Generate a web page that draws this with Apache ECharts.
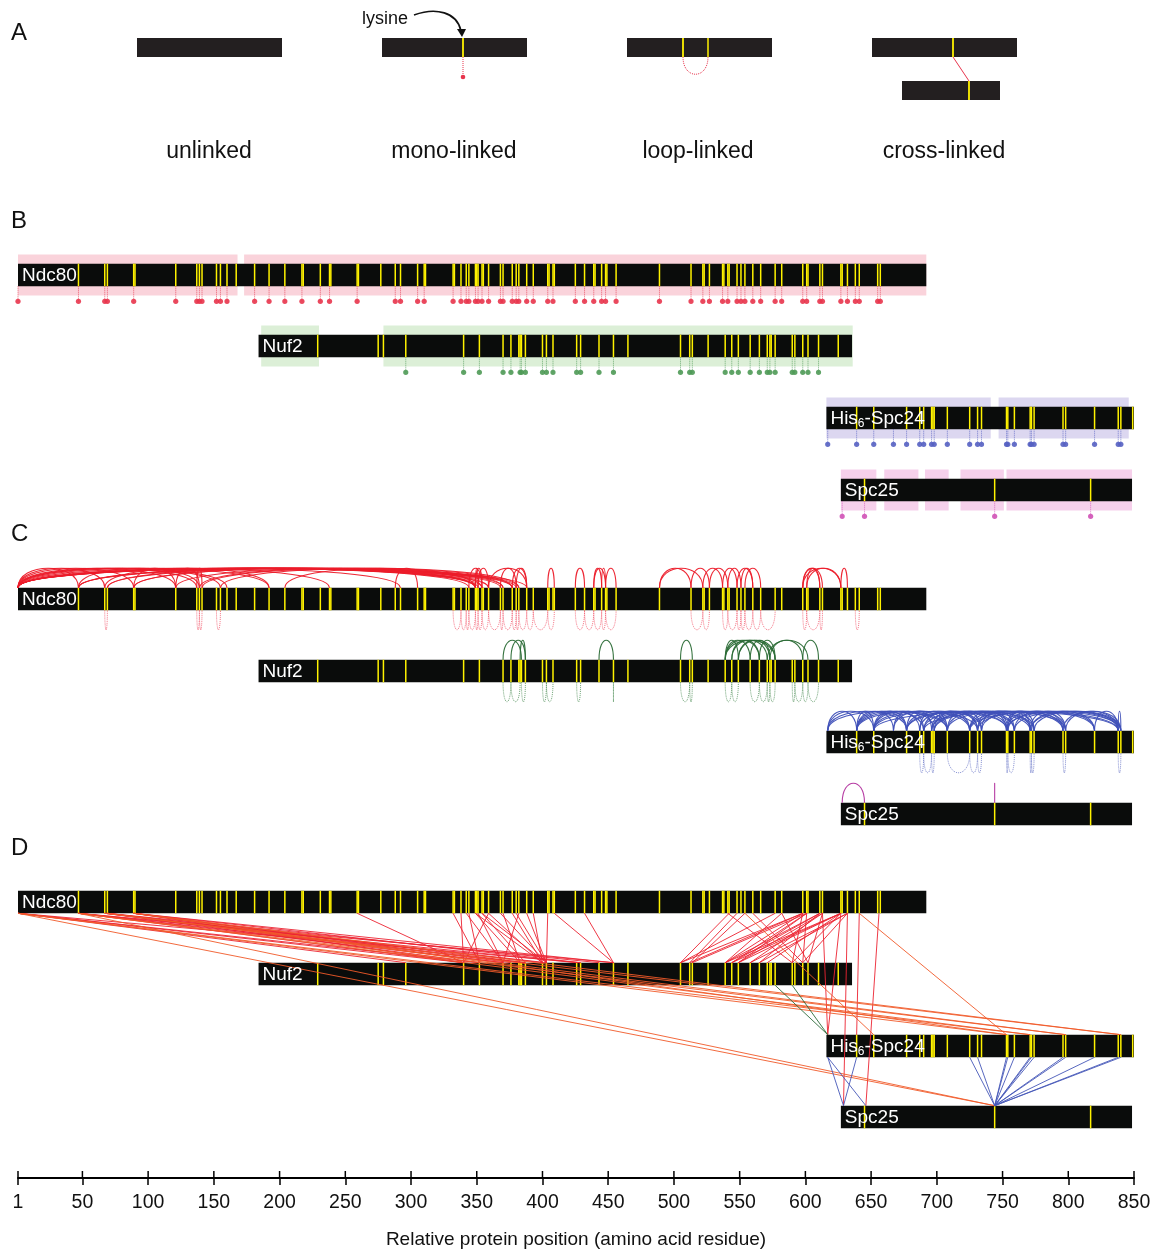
<!DOCTYPE html>
<html>
<head>
<meta charset="utf-8">
<script src="https://cdn.jsdelivr.net/npm/echarts@6/dist/echarts.min.js"></script>
<style>
  html, body { margin: 0; padding: 0; background: #fff; }
  #chart { width: 1158px; height: 1249px; }
</style>
</head>
<body>
<div id="chart"></div>
<script>
// relative protein position axis
var axisTicks = [1, 50, 100, 150, 200, 250, 300, 350, 400, 450, 500, 550, 600, 650, 700, 750, 800, 850];

var proteinNames = ['Ndc80', 'Nuf2', 'His6-Spc24', 'Spc25'];

// extent of each protein on the relative axis
var ndc80Span = [1, 692];
var nuf2Span = [184, 635.5];
var spc24Span = [616, 850];
var spc25Span = [627, 848.5];

// lysine positions
var ndc80Lys = [47, 67, 69, 89, 90, 121, 137, 139, 141, 152, 155, 160, 167, 181, 192, 204, 217, 218, 231, 238, 239, 259, 260, 277, 288, 292, 305, 310, 311, 332, 333, 338, 342, 344, 349, 350, 351, 354, 355, 359, 368, 370, 377, 380, 382, 388, 393, 404, 405, 408, 409, 425, 432, 439, 440, 445, 448, 449, 456, 489, 513, 522, 523, 527, 537, 538, 541, 542, 548, 551, 554, 560, 566, 577, 582, 598, 601, 602, 611, 613, 627, 628, 632, 638, 641, 655, 657];
var nuf2Lys = [229, 275, 279, 296, 340, 352, 370, 376, 382, 383, 384, 387, 400, 403, 408, 426, 429, 443, 454, 465, 505, 512, 514, 526, 539, 544, 549, 558, 565, 571, 573, 574, 577, 590, 592, 598, 602, 610, 625];
var spc24Lys = [639, 652, 677, 687, 690, 696, 697, 698, 708, 725, 731, 734, 753, 754, 759, 771, 772, 774, 796, 798, 820, 838, 840, 849];
var spc25Lys = [645, 744, 817];

// B: mono-links
var ndc80Mono = [1, 47, 67, 69, 89, 121, 137, 139, 141, 152, 155, 160, 181, 192, 204, 217, 231, 238, 259, 288, 292, 305, 310, 332, 338, 342, 344, 349, 351, 354, 359, 368, 370, 377, 380, 382, 388, 393, 404, 408, 425, 432, 439, 445, 448, 456, 489, 513, 522, 527, 537, 541, 548, 551, 554, 560, 566, 577, 582, 598, 601, 611, 613, 627, 632, 638, 641, 655, 657];
var nuf2Mono = [296, 340, 352, 370, 376, 383, 384, 387, 400, 403, 408, 426, 429, 443, 454, 505, 512, 514, 539, 544, 549, 558, 565, 571, 573, 577, 590, 592, 598, 602, 610];
var spc24Mono = [617, 639, 652, 667, 677, 687, 690, 696, 698, 708, 725, 731, 734, 753, 754, 759, 771, 772, 774, 796, 798, 820, 838, 840];
var spc25Mono = [628, 645, 744, 817];

// B: sequence coverage
var ndc80Cover = [[1, 168], [173, 692]];
var nuf2Cover = [[186, 230], [279, 636]];
var spc24Cover = [[616, 741], [747, 846]];
var spc25Cover = [[627, 654], [660, 686], [691, 709], [718, 751], [753, 848.5]];

// C: intra-protein cross-links (above) and loop-links (below)
var ndc80Intra = [[1, 47], [1, 67], [1, 89], [1, 121], [1, 137], [1, 155], [1, 160], [1, 192], [1, 238], [1, 292], [1, 344], [1, 349], [1, 351], [1, 354], [1, 359], [1, 368], [1, 377], [1, 380], [1, 388],
  [47, 139], [47, 349], [47, 370], [47, 382], [67, 192], [69, 349], [69, 377], [89, 121], [89, 349], [89, 359], [121, 139], [121, 370], [137, 141], [139, 354], [141, 377], [155, 382], [204, 349], [288, 305],
  [344, 354], [349, 351], [349, 354], [351, 359], [359, 388], [368, 380], [377, 388], [380, 388], [404, 409], [425, 432], [439, 445], [439, 448], [445, 448], [448, 456],
  [489, 513], [489, 522], [513, 527], [522, 537], [527, 541], [537, 548], [541, 551], [548, 560], [551, 560], [554, 566],
  [598, 611], [598, 613], [601, 611], [598, 627], [601, 627], [627, 632]];
var ndc80Loops = [[67, 69], [137, 139], [139, 141], [152, 155], [332, 338], [338, 342], [342, 344], [344, 349], [349, 351], [351, 354], [354, 359], [359, 368], [368, 370], [370, 377], [377, 380], [380, 382], [382, 388], [388, 393], [393, 404], [404, 409],
  [425, 432], [432, 439], [439, 445], [445, 448], [448, 456], [513, 522], [522, 527], [537, 541], [541, 548], [548, 551], [551, 554], [554, 560], [560, 566], [566, 577], [598, 601], [601, 611], [611, 613], [638, 641]];
var nuf2Intra = [[370, 384], [376, 387], [383, 387], [443, 454], [505, 514], [539, 549], [539, 558], [539, 565], [539, 577], [544, 565], [544, 571], [549, 573], [549, 577], [558, 573], [565, 577], [571, 602], [573, 598], [598, 610]];
var nuf2Loops = [[370, 376], [376, 383], [384, 387], [400, 403], [403, 408], [426, 429], [454, 454], [505, 512], [512, 514], [539, 544], [544, 549], [558, 565], [565, 571], [571, 573], [573, 577], [590, 592], [592, 598], [598, 602], [602, 610]];
var spc24Intra = [[617, 639], [617, 652], [617, 677], [617, 708], [639, 652], [639, 667], [639, 677], [639, 690], [639, 708], [639, 731], [652, 677], [652, 687], [652, 698], [652, 725], [652, 754], [652, 838],
  [667, 690], [667, 708], [677, 696], [677, 725], [677, 753], [677, 771], [687, 708], [687, 734], [690, 731], [690, 759], [690, 838], [696, 725], [696, 754], [696, 774], [698, 731], [698, 772], [698, 798],
  [708, 734], [708, 759], [708, 796], [725, 753], [725, 771], [725, 798], [725, 840], [731, 754], [731, 774], [731, 820], [734, 759], [734, 796], [753, 771], [753, 798], [753, 838], [754, 774], [754, 820],
  [759, 796], [759, 840], [771, 798], [771, 838], [772, 820], [774, 840], [796, 838], [798, 840], [820, 838], [838, 840]];
var spc24Loops = [[687, 690], [690, 696], [696, 698], [708, 725], [725, 731], [731, 734], [753, 754], [754, 759], [771, 772], [772, 774], [796, 798], [838, 840]];
var spc25Intra = [[628, 645], [744, 744]];
var spc25Loops = [];

// D: inter-protein cross-links [upper protein residue, lower protein residue]
var ndc80Nuf2Links = [[1, 296], [1, 340], [1, 352], [1, 429], [47, 340], [47, 370], [47, 387], [47, 426], [47, 454], [67, 352], [67, 383], [67, 403], [69, 370], [69, 400], [69, 443], [89, 340], [89, 376], [89, 387], [89, 429], [89, 454], [259, 340],
  [332, 352], [338, 340], [342, 370], [344, 352], [349, 383], [349, 400], [351, 370], [354, 387], [354, 403], [359, 340], [359, 400], [368, 403], [370, 383], [377, 400], [380, 403], [382, 370], [388, 403], [393, 400], [404, 403], [409, 454], [432, 454],
  [542, 505], [548, 512], [554, 514], [577, 505], [582, 539], [598, 505], [598, 512], [598, 539], [601, 514], [601, 544], [601, 549], [611, 539], [611, 544], [611, 565], [613, 549], [613, 558], [627, 539], [627, 544], [627, 549], [627, 571], [632, 558], [632, 565],
  [541, 590], [560, 598], [582, 602], [598, 590], [601, 598], [613, 602], [627, 590], [632, 598]];
var ndc80Spc24Links = [[613, 617], [627, 617], [641, 639]];
var ndc80Spc25Links = [[632, 629], [656, 646]];
var ndc80Spc24LongLinks = [[1, 753], [1, 771], [47, 771], [47, 798], [67, 840], [69, 798], [89, 840], [89, 753], [554, 652], [641, 753]];
var ndc80Spc25LongLinks = [[1, 744], [47, 744]];
var nuf2Spc24Links = [[577, 617], [590, 617]];
var spc24Spc25Links = [[617, 629], [617, 646], [639, 629], [725, 744], [731, 744], [753, 744], [754, 744], [759, 744], [771, 744], [772, 744], [774, 744], [796, 744], [798, 744], [820, 744], [838, 744], [840, 744]];

// track rows (y units of the layout axis) for panels B, C, D
var rowsB = [275, 346, 418, 490];
var rowsC = [599, 671, 742, 814];
var rowsD = [902, 974, 1046, 1117];
var axisY = 1178;
var barHalf = 11.3;
var bandHalf = 20.5;
var arcH = 26;

var FONT = '"Liberation Sans", Arial, Helvetica, sans-serif';
var bandColors = ['#fad3db', '#dcefd7', '#dcd7f0', '#f6d0eb'];
var monoColors = ['#e8354d', '#4f9a57', '#5560c2', '#d052b6'];
var arcColors = ['#ec1c2a', '#2b6b36', '#3f50b8', '#b2329e'];
var loopColors = ['#f2566a', '#4f8f58', '#6c78c8', '#c050b0'];

var spans = [ndc80Span, nuf2Span, spc24Span, spc25Span];
var lysines = [ndc80Lys, nuf2Lys, spc24Lys, spc25Lys];
var monos = [ndc80Mono, nuf2Mono, spc24Mono, spc25Mono];
var covers = [ndc80Cover, nuf2Cover, spc24Cover, spc25Cover];
var intras = [ndc80Intra, nuf2Intra, spc24Intra, spc25Intra];
var loops = [ndc80Loops, nuf2Loops, spc24Loops, spc25Loops];

var barData = [], lysData = [], labelData = [], bandData = [], monoData = [];
[rowsB, rowsC, rowsD].forEach(function (rows) {
  rows.forEach(function (y, i) {
    barData.push([spans[i][0], spans[i][1], y]);
    labelData.push([spans[i][0], y, i]);
    lysines[i].forEach(function (k) { lysData.push([k, y]); });
  });
});
rowsB.forEach(function (y, i) {
  covers[i].forEach(function (c) { bandData.push([c[0], c[1], y, i]); });
  monos[i].forEach(function (m) { monoData.push([m, y, i]); });
});

function renderRect(half, colorFn) {
  return function (params, api) {
    var p0 = api.coord([api.value(0), api.value(2) - half]);
    var p1 = api.coord([api.value(1), api.value(2) + half]);
    return {
      type: 'rect',
      shape: { x: p0[0], y: p0[1], width: p1[0] - p0[0], height: p1[1] - p0[1] },
      style: { fill: colorFn(api) }
    };
  };
}

function renderLys(params, api) {
  var p0 = api.coord([api.value(0), api.value(1) - barHalf]);
  var p1 = api.coord([api.value(0), api.value(1) + barHalf]);
  return { type: 'line', shape: { x1: p0[0], y1: p0[1], x2: p1[0], y2: p1[1] }, style: { stroke: '#fff200', lineWidth: 1.5 } };
}

function renderMono(params, api) {
  var c = monoColors[api.value(2)];
  var p0 = api.coord([api.value(0), api.value(1) + barHalf]);
  var p1 = api.coord([api.value(0), api.value(1) + barHalf + 15]);
  return {
    type: 'group',
    children: [
      { type: 'line', shape: { x1: p0[0], y1: p0[1], x2: p1[0], y2: p1[1] }, style: { stroke: c, lineWidth: 1, lineDash: [1, 1], opacity: 0.75 } },
      { type: 'circle', shape: { cx: p1[0], cy: p1[1], r: 2.6 }, style: { fill: c, opacity: 0.9 } }
    ]
  };
}

function renderArc(color, dashed) {
  return function (params, api) {
    var a = api.value(0), b = api.value(1), y = api.value(2), dir = api.value(3);
    var edge = y - dir * barHalf;
    var p1 = api.coord([a, edge]), p2 = api.coord([b, edge]);
    var c1 = api.coord([a, edge - dir * arcH]), c2 = api.coord([b, edge - dir * arcH]);
    return {
      type: 'bezierCurve',
      shape: { x1: p1[0], y1: p1[1], x2: p2[0], y2: p2[1], cpx1: c1[0], cpy1: c1[1], cpx2: c2[0], cpy2: c2[1] },
      style: { stroke: color, fill: null, lineWidth: dashed ? 1 : 1.1, lineDash: dashed ? [1, 1] : null, opacity: dashed ? 0.8 : 0.95 }
    };
  };
}

function renderLink(color) {
  return function (params, api) {
    var p1 = api.coord([api.value(0), api.value(2) + barHalf]);
    var p2 = api.coord([api.value(1), api.value(3) - barHalf]);
    return { type: 'line', shape: { x1: p1[0], y1: p1[1], x2: p2[0], y2: p2[1] }, style: { stroke: color, lineWidth: 1, opacity: 0.9 } };
  };
}

// upper half of the axis ticks (the axis draws the lower half)
function renderTickUp(params, api) {
  var p0 = api.coord([api.value(0), axisY]);
  return { type: 'line', shape: { x1: p0[0], y1: p0[1], x2: p0[0], y2: p0[1] - 7 }, style: { stroke: '#000', lineWidth: 1.5 } };
}

var labelText = ['Ndc80', 'Nuf2', '{n|His}{s|6}{n|-Spc24}', 'Spc25'];
function renderLabel(params, api) {
  var p = api.coord([api.value(0), api.value(1)]);
  return {
    type: 'text',
    x: p[0] + 4,
    y: p[1] + 1,
    style: {
      text: labelText[api.value(2)],
      fill: '#fff',
      fontSize: 19,
      fontFamily: FONT,
      verticalAlign: 'middle',
      rich: {
        n: { fontSize: 19, fontFamily: FONT, fill: '#fff' },
        s: { fontSize: 12, fontFamily: FONT, fill: '#fff', padding: [10, 0, 0, 0] }
      }
    }
  };
}

function custom(data, render, z) {
  return { type: 'custom', data: data, renderItem: render, z: z, silent: true, clip: false };
}

var series = [];
series.push(custom(bandData, renderRect(bandHalf, function (api) { return bandColors[api.value(3)]; }), 1));
series.push(custom(barData, renderRect(barHalf, function () { return '#0a0c0b'; }), 2));
series.push(custom(lysData, renderLys, 3));
series.push(custom(monoData, renderMono, 3));
for (var i = 0; i < 4; i++) {
  var up = intras[i].map(function (p) { return [p[0], p[1], rowsC[i], 1]; });
  var down = loops[i].map(function (p) { return [p[0], p[1], rowsC[i], -1]; });
  series.push(custom(up, renderArc(arcColors[i], false), 4));
  series.push(custom(down, renderArc(loopColors[i], true), 4));
}
function linkData(list, from, to) {
  return list.map(function (p) { return [p[0], p[1], rowsD[from], rowsD[to]]; });
}
series.push(custom(linkData(ndc80Nuf2Links, 0, 1), renderLink('#ec2332'), 5));
series.push(custom(linkData(ndc80Spc24Links, 0, 2), renderLink('#ec2332'), 5));
series.push(custom(linkData(ndc80Spc25Links, 0, 3), renderLink('#ec2332'), 5));
series.push(custom(linkData(ndc80Spc24LongLinks, 0, 2), renderLink('#f15a29'), 5));
series.push(custom(linkData(ndc80Spc25LongLinks, 0, 3), renderLink('#f15a29'), 5));
series.push(custom(linkData(nuf2Spc24Links, 1, 2), renderLink('#2f6b3b'), 5));
series.push(custom(linkData(spc24Spc25Links, 2, 3), renderLink('#4658b8'), 5));
series.push(custom(labelData, renderLabel, 6));
series.push(custom(axisTicks.map(function (t) { return [t, axisY]; }), renderTickUp, 6));

// panel A schematic and panel letters
var ink = '#231f20';
var txt = { fill: '#111', fontFamily: FONT };
var graphic = [
  { type: 'text', x: 11, y: 33, style: Object.assign({ text: 'A', fontSize: 24, verticalAlign: 'middle' }, txt) },
  { type: 'text', x: 11, y: 221, style: Object.assign({ text: 'B', fontSize: 24, verticalAlign: 'middle' }, txt) },
  { type: 'text', x: 11, y: 534, style: Object.assign({ text: 'C', fontSize: 24, verticalAlign: 'middle' }, txt) },
  { type: 'text', x: 11, y: 848, style: Object.assign({ text: 'D', fontSize: 24, verticalAlign: 'middle' }, txt) },
  { type: 'rect', shape: { x: 137, y: 38, width: 145, height: 19 }, style: { fill: ink } },
  { type: 'rect', shape: { x: 382, y: 38, width: 145, height: 19 }, style: { fill: ink } },
  { type: 'rect', shape: { x: 627, y: 38, width: 145, height: 19 }, style: { fill: ink } },
  { type: 'rect', shape: { x: 872, y: 38, width: 145, height: 19 }, style: { fill: ink } },
  { type: 'rect', shape: { x: 902, y: 81, width: 98, height: 19 }, style: { fill: ink } },
  { type: 'line', shape: { x1: 463, y1: 38, x2: 463, y2: 57 }, style: { stroke: '#fff200', lineWidth: 1.8 } },
  { type: 'line', shape: { x1: 463, y1: 57, x2: 463, y2: 76 }, style: { stroke: '#e8354d', lineWidth: 1, lineDash: [1, 1] } },
  { type: 'circle', shape: { cx: 463, cy: 77, r: 2.3 }, style: { fill: '#e8354d' } },
  { type: 'line', shape: { x1: 683, y1: 38, x2: 683, y2: 57 }, style: { stroke: '#fff200', lineWidth: 1.8 } },
  { type: 'line', shape: { x1: 708, y1: 38, x2: 708, y2: 57 }, style: { stroke: '#fff200', lineWidth: 1.5 } },
  { type: 'bezierCurve', shape: { x1: 683, y1: 57, cpx1: 683, cpy1: 80, cpx2: 708, cpy2: 80, x2: 708, y2: 57 }, style: { stroke: '#e8354d', fill: null, lineWidth: 1, lineDash: [1, 1] } },
  { type: 'line', shape: { x1: 953, y1: 38, x2: 953, y2: 57 }, style: { stroke: '#fff200', lineWidth: 1.8 } },
  { type: 'line', shape: { x1: 969, y1: 81, x2: 969, y2: 100 }, style: { stroke: '#fff200', lineWidth: 1.8 } },
  { type: 'line', shape: { x1: 953, y1: 57, x2: 969, y2: 81 }, style: { stroke: '#e8354d', lineWidth: 1 } },
  { type: 'text', x: 362, y: 19, style: Object.assign({ text: 'lysine', fontSize: 18, verticalAlign: 'middle' }, txt) },
  { type: 'bezierCurve', shape: { x1: 414, y1: 15, cpx1: 436, cpy1: 7, cpx2: 457, cpy2: 12, x2: 461, y2: 31 }, style: { stroke: '#111', fill: null, lineWidth: 1.6 } },
  { type: 'polygon', shape: { points: [[457, 29], [466, 29], [462, 37]] }, style: { fill: '#111' } },
  { type: 'text', x: 209, y: 152, style: Object.assign({ text: 'unlinked', fontSize: 23, align: 'center', verticalAlign: 'middle' }, txt) },
  { type: 'text', x: 454, y: 152, style: Object.assign({ text: 'mono-linked', fontSize: 23, align: 'center', verticalAlign: 'middle' }, txt) },
  { type: 'text', x: 698, y: 152, style: Object.assign({ text: 'loop-linked', fontSize: 23, align: 'center', verticalAlign: 'middle' }, txt) },
  { type: 'text', x: 944, y: 152, style: Object.assign({ text: 'cross-linked', fontSize: 23, align: 'center', verticalAlign: 'middle' }, txt) }
];

var chart = echarts.init(document.getElementById('chart'));
chart.setOption({
  animation: false,
  backgroundColor: '#fff',
  grid: { left: 18, right: 24, top: 0, bottom: 71, containLabel: false, outerBoundsMode: 'none' },
  xAxis: {
    type: 'value', min: 1, max: 850, position: 'bottom',
    axisLine: { onZero: false, lineStyle: { color: '#000', width: 2 } },
    axisTick: { customValues: axisTicks, length: 7, lineStyle: { color: '#000', width: 1.5 } },
    axisLabel: { customValues: axisTicks, fontSize: 19.5, color: '#111', margin: 15, fontFamily: FONT, hideOverlap: false },
    splitLine: { show: false },
    name: 'Relative protein position (amino acid residue)',
    nameLocation: 'middle', nameGap: 52,
    nameTextStyle: { fontSize: 19, color: '#111', fontFamily: FONT }
  },
  yAxis: { type: 'value', min: 0, max: axisY, inverse: true, show: false },
  graphic: graphic,
  series: series
});
</script>
</body>
</html>
